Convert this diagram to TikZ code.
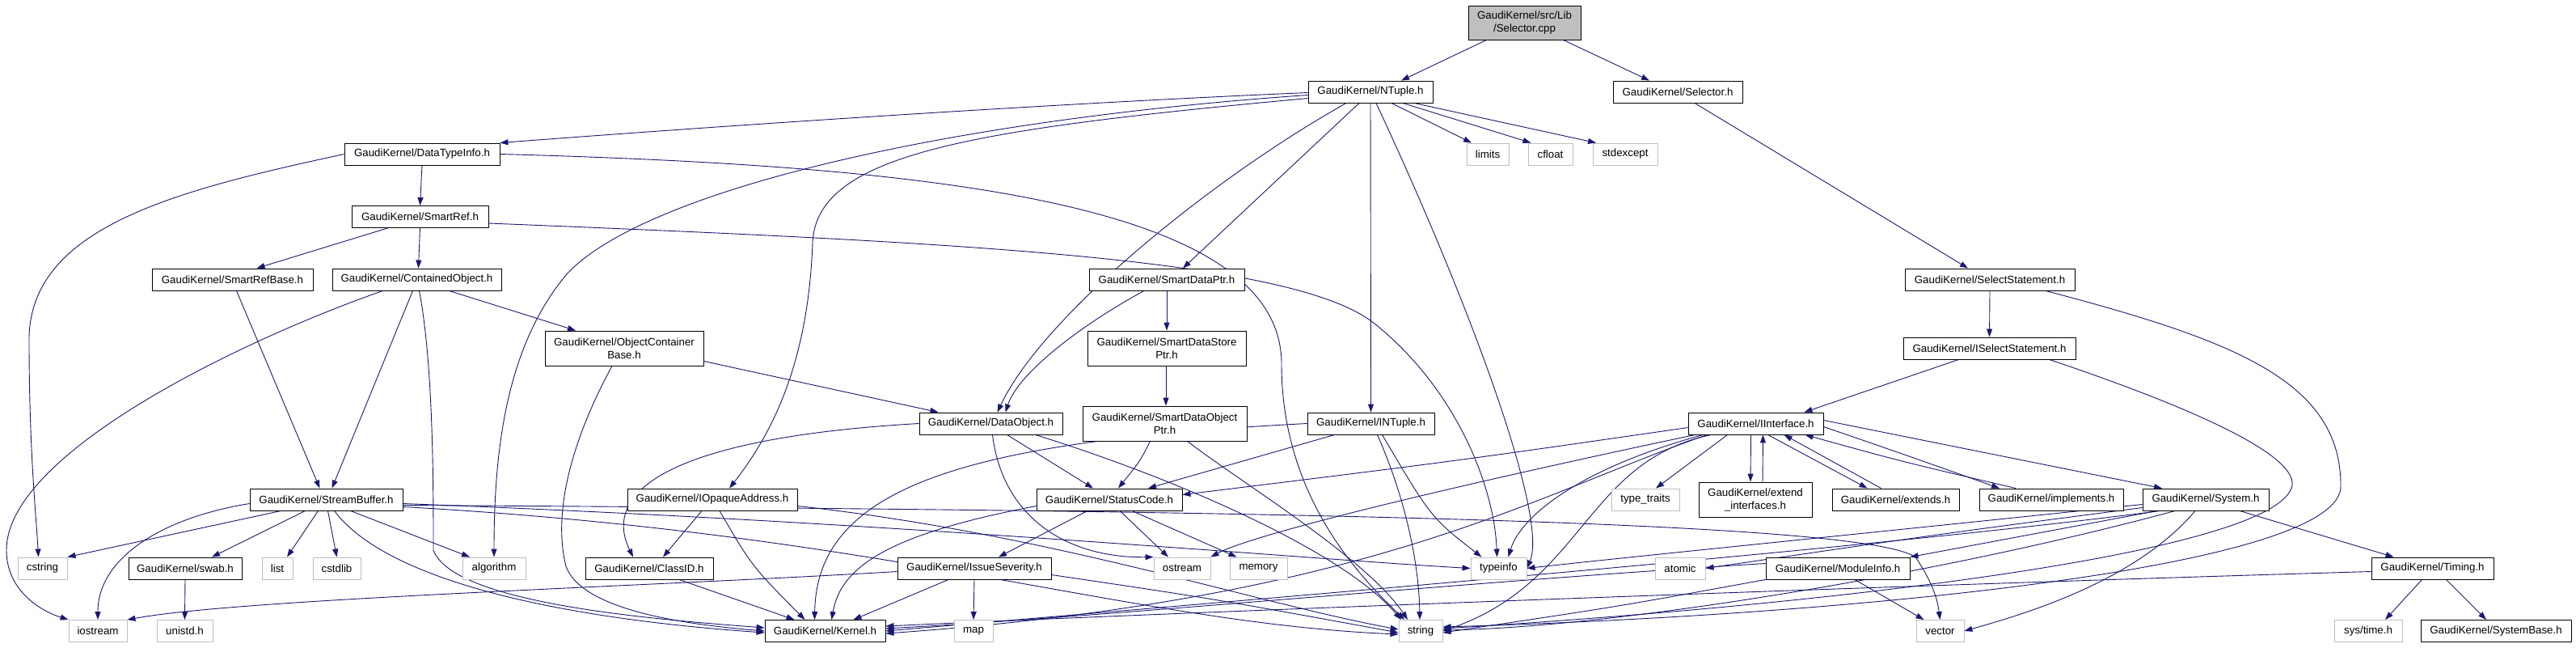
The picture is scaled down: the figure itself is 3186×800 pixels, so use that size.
\documentclass[tikz,border=0pt]{standalone}
\usepackage{fontspec}
\setmainfont{Liberation Sans}
\usetikzlibrary{arrows.meta,backgrounds}
\definecolor{edgecol}{HTML}{191970}
\definecolor{sysgray}{HTML}{BFBFBF}
\begin{document}
\begin{tikzpicture}[x=1bp,y=-1bp,
  box/.style={draw=black,fill=white,rectangle,inner sep=0pt,minimum height=27bp,
    line width=0.9bp,align=center,font=\fontsize{13.3bp}{16bp}\selectfont},
  tall/.style={minimum height=43bp},
  sysbox/.style={box,draw=sysgray},
  rootbox/.style={box,fill=sysgray,minimum height=42bp},
  dep/.style={draw=edgecol,line width=0.9bp,-{Triangle[length=10bp,width=7bp]}}]
\useasboundingbox (0,0) rectangle (3186,800);
% nodes
\node[rootbox,minimum width=139bp] (root) at (1885.5,28) {GaudiKernel/src/Lib\\/Selector.cpp};
\node[box,minimum width=154bp] (ntuple) at (1695,113.5) {GaudiKernel/NTuple.h};
\node[box,minimum width=160bp] (selh) at (2075,113.5) {GaudiKernel/Selector.h};
\node[sysbox,minimum width=52bp] (limits) at (1840,190.5) {limits};
\node[sysbox,minimum width=55bp] (cfloat) at (1917.5,190.5) {cfloat};
\node[sysbox,minimum width=80bp] (stdexcept) at (2010,190.5) {stdexcept};
\node[box,minimum width=192bp] (dti) at (522,190.5) {GaudiKernel/DataTypeInfo.h};
\node[box,minimum width=169bp] (smartref) at (519.5,268) {GaudiKernel/SmartRef.h};
\node[box,minimum width=199bp] (srbase) at (287.5,345.5) {GaudiKernel/SmartRefBase.h};
\node[box,minimum width=209bp] (contobj) at (515.5,345.5) {GaudiKernel/ContainedObject.h};
\node[box,tall,minimum width=196bp] (ocb) at (772,430.5) {GaudiKernel/ObjectContainer\\Base.h};
\node[box,minimum width=192bp] (sdp) at (1443,345.5) {GaudiKernel/SmartDataPtr.h};
\node[box,tall,minimum width=196bp] (sdsp) at (1443,430.5) {GaudiKernel/SmartDataStore\\Ptr.h};
\node[box,tall,minimum width=203bp] (sdop) at (1440.5,523.5) {GaudiKernel/SmartDataObject\\Ptr.h};
\node[box,minimum width=210bp] (selst) at (2461,345.5) {GaudiKernel/SelectStatement.h};
\node[box,minimum width=213bp] (iselst) at (2460.5,430.5) {GaudiKernel/ISelectStatement.h};
\node[box,minimum width=177bp] (dataobj) at (1225.5,523.5) {GaudiKernel/DataObject.h};
\node[box,minimum width=157bp] (intuple) at (1695.5,523.5) {GaudiKernel/INTuple.h};
\node[box,minimum width=167bp] (iif) at (2171.5,523.5) {GaudiKernel/IInterface.h};
\node[box,minimum width=189bp] (sbuf) at (403.5,617.5) {GaudiKernel/StreamBuffer.h};
\node[box,minimum width=210bp] (ioa) at (881,617.5) {GaudiKernel/IOpaqueAddress.h};
\node[box,minimum width=180bp] (sc) at (1372,617.5) {GaudiKernel/StatusCode.h};
\node[sysbox,minimum width=84bp] (tt) at (2035,617.5) {type\_traits};
\node[box,tall,minimum width=140bp] (extif) at (2171,617.5) {GaudiKernel/extend\\\_interfaces.h};
\node[box,minimum width=157bp] (extends) at (2344.5,617.5) {GaudiKernel/extends.h};
\node[box,minimum width=178bp] (impl) at (2537,617.5) {GaudiKernel/implements.h};
\node[box,minimum width=156bp] (system) at (2728,617.5) {GaudiKernel/System.h};
\node[sysbox,minimum width=61bp] (cstring) at (52.5,702.5) {cstring};
\node[box,minimum width=140bp] (swab) at (229,702.5) {GaudiKernel/swab.h};
\node[sysbox,minimum width=38bp] (list) at (343,702.5) {list};
\node[sysbox,minimum width=59bp] (cstdlib) at (416.5,702.5) {cstdlib};
\node[sysbox,minimum width=78bp] (algorithm) at (611,702.5) {algorithm};
\node[box,minimum width=158bp] (classid) at (803,702.5) {GaudiKernel/ClassID.h};
\node[box,minimum width=190bp] (issue) at (1205,702.5) {GaudiKernel/IssueSeverity.h};
\node[sysbox,minimum width=70bp] (ostream) at (1462,702.5) {ostream};
\node[sysbox,minimum width=71bp] (memory) at (1556.5,702.5) {memory};
\node[sysbox,minimum width=69bp] (typeinfo) at (1853.5,702.5) {typeinfo};
\node[sysbox,minimum width=62bp] (atomic) at (2078,702.5) {atomic};
\node[box,minimum width=178bp] (modinfo) at (2273,702.5) {GaudiKernel/ModuleInfo.h};
\node[box,minimum width=151bp] (timing) at (3008.5,702.5) {GaudiKernel/Timing.h};
\node[sysbox,minimum width=72bp] (iostream) at (121,780) {iostream};
\node[sysbox,minimum width=69bp] (unistd) at (228.5,780) {unistd.h};
\node[box,minimum width=149bp] (kernel) at (1020.5,780) {GaudiKernel/Kernel.h};
\node[sysbox,minimum width=48bp] (map) at (1204,780) {map};
\node[sysbox,minimum width=54bp] (string) at (1757,780) {string};
\node[sysbox,minimum width=59bp] (vector) at (2399.5,780) {vector};
\node[sysbox,minimum width=84bp] (systime) at (2929,780) {sys/time.h};
\node[box,minimum width=186bp] (sysbase) at (3087,780) {GaudiKernel/SystemBase.h};
% edges
\begin{scope}[on background layer]
\draw[dep] ([xshift=-47bp]root.south) -- ([xshift=38bp]ntuple.north);
\draw[dep] ([xshift=48bp]root.south) -- ([xshift=-35bp]selh.north);
\draw[dep] ([xshift=21bp]selh.south) -- ([xshift=-27bp]selst.north);
\draw[dep] ([xshift=26bp]ntuple.south) -- ([xshift=-20bp]limits.north);
\draw[dep] ([xshift=40bp]ntuple.south) -- ([xshift=-24bp]cfloat.north);
\draw[dep] ([xshift=54bp]ntuple.south) -- ([xshift=-36bp]stdexcept.north);
\draw[dep] ([yshift=-1bp]ntuple.west) .. controls (1300,128) and (900,155) .. (dti.north east);
\draw[dep] ([yshift=-4bp]ntuple.west) .. controls (1150,150) and (790,240) .. (700,340) .. controls (625,430) and (611,560) .. (algorithm.north);
\draw[dep] ([yshift=-8bp]ntuple.west) .. controls (1200,160) and (1010,190) .. (1005,300) .. controls (1000,440) and (960,530) .. ([xshift=21bp]ioa.north);
\draw[dep] ([xshift=-30bp]ntuple.south) .. controls (1500,220) and (1290,390) .. ([xshift=8bp]dataobj.north);
\draw[dep] ([xshift=-14bp]ntuple.south) -- ([xshift=20bp]sdp.north);
\draw[dep] (ntuple.south) -- (intuple.north);
\draw[dep] ([xshift=7bp]ntuple.south) .. controls (1820,380) and (1915,640) .. (typeinfo.east);
\draw[dep] (dti.south) -- (smartref.north);
\draw[dep] (dti.west) .. controls (220,235) and (36,280) .. (36,420) .. controls (36,560) and (45,640) .. ([xshift=-5bp]cstring.north);
\draw[dep] (dti.east) .. controls (1150,205) and (1585,250) .. (1585,450) .. controls (1585,620) and (1690,720) .. ([xshift=-20bp]string.north);
\draw[dep] ([xshift=-40bp]smartref.south) -- ([xshift=30bp]srbase.north);
\draw[dep] (smartref.south) -- ([xshift=2bp]contobj.north);
\draw[dep] ([yshift=-8bp]smartref.east) .. controls (1200,300) and (1600,320) .. (1700,400) .. controls (1800,480) and (1848,600) .. ([xshift=-2bp]typeinfo.north);
\draw[dep] ([xshift=5bp]srbase.south) -- ([xshift=-8bp]sbuf.north);
\draw[dep] ([xshift=-5bp]contobj.south) -- ([xshift=7bp]sbuf.north);
\draw[dep] ([xshift=-42bp]contobj.south) .. controls (300,420) and (8,560) .. (8,680) .. controls (8,730) and (50,755) .. (iostream.north west);
\draw[dep] ([xshift=3bp]contobj.south) .. controls (536,450) and (536,600) .. (536,680) .. controls (560,745) and (800,765) .. ([yshift=4bp]kernel.west);
\draw[dep] ([xshift=40bp]contobj.south) -- ([xshift=-60bp]ocb.north);
\draw[dep] ([yshift=-16bp]ocb.east) -- ([xshift=-65bp]dataobj.north);
\draw[dep] ([xshift=-15bp]ocb.south) .. controls (720,520) and (680,620) .. (700,700) .. controls (720,755) and (850,772) .. (kernel.west);
\draw[dep] (sdp.south) -- (sdsp.north);
\draw[dep] ([xshift=-28bp]sdp.south) .. controls (1340,400) and (1260,460) .. ([xshift=18bp]dataobj.north);
\draw[dep] ([xshift=-1bp]sdsp.south) -- ([xshift=1.5bp]sdop.north);
\draw[dep] ([xshift=-18bp]sdop.south) .. controls (1410,570) .. ([xshift=11bp]sc.north);
\draw[dep] ([xshift=28bp]sdop.south) .. controls (1540,600) and (1690,690) .. ([xshift=-16bp]string.north);
\draw[dep] (intuple.west) .. controls (1200,545) and (1010,600) .. ([xshift=-13bp]kernel.north);
\draw[dep] ([xshift=-45bp]intuple.south) -- ([xshift=48bp]sc.north);
\draw[dep] ([xshift=8bp]intuple.south) .. controls (1740,620) and (1755,700) .. ([xshift=-1bp]string.north);
\draw[dep] ([xshift=14bp]intuple.south) .. controls (1770,640) .. ([xshift=-21bp]typeinfo.north);
\draw[dep] (dataobj.west) .. controls (850,540) and (740,600) .. ([xshift=-20bp]classid.north);
\draw[dep] ([xshift=20bp]dataobj.south) -- ([xshift=-20bp]sc.north);
\draw[dep] ([xshift=2bp]dataobj.south) .. controls (1240,640) and (1320,690) .. (ostream.north west);
\draw[dep] ([xshift=55bp]dataobj.south) .. controls (1450,590) and (1660,680) .. ([xshift=-24bp]string.north);
\draw[dep] ([xshift=-13bp]ioa.south) -- ([xshift=17bp]classid.north);
\draw[dep] ([xshift=9bp]ioa.south) .. controls (930,700) .. ([xshift=-25bp]kernel.north);
\draw[dep] ([yshift=-8bp]ioa.east) .. controls (1300,660) and (1550,745) .. ([yshift=2bp]string.west);
\draw[dep] ([xshift=37bp]classid.south) -- ([xshift=-38bp]kernel.north);
\draw[dep] ([xshift=-27bp]sc.south) -- ([xshift=30bp]issue.north);
\draw[dep] ([xshift=13bp]sc.south) -- ([xshift=-17bp]ostream.north);
\draw[dep] ([xshift=28bp]sc.south) -- ([xshift=-27bp]memory.north);
\draw[dep] ([yshift=-8bp]sc.west) .. controls (1100,660) and (1040,700) .. ([xshift=8bp]kernel.north);
\draw[dep] ([xshift=-32bp]issue.south) -- ([xshift=35bp]kernel.north);
\draw[dep] (issue.south) -- (map.north);
\draw[dep] ([yshift=-8bp]issue.east) .. controls (1500,740) .. ([yshift=-2bp]string.west);
\draw[dep] ([yshift=-4bp]issue.west) .. controls (800,725) and (300,740) .. (iostream.north east);
\draw[dep] ([xshift=-56bp]sbuf.south) -- (cstring.north east);
\draw[dep] ([xshift=-26bp]sbuf.south) -- ([xshift=33bp]swab.north);
\draw[dep] ([xshift=-10bp]sbuf.south) -- ([xshift=12bp]list.north);
\draw[dep] ([xshift=2bp]sbuf.south) -- (cstdlib.north);
\draw[dep] ([xshift=30bp]sbuf.south) -- ([xshift=-30bp]algorithm.north);
\draw[dep] ([yshift=-5bp]sbuf.west) .. controls (200,640) and (121,690) .. (iostream.north);
\draw[dep] ([xshift=10bp]sbuf.south) .. controls (480,720) and (700,765) .. ([yshift=-2bp]kernel.west);
\draw[dep] ([yshift=-5bp]sbuf.east) .. controls (1100,645) and (1600,690) .. (typeinfo.west);
\draw[dep] ([yshift=-7bp]sbuf.east) .. controls (1400,630) and (2320,640) .. (2370,690) .. controls (2390,720) and (2396,740) .. (vector.north);
\draw[dep] ([yshift=-9bp]sbuf.east) .. controls (1100,660) and (1400,770) .. ([yshift=-4bp]string.west);
\draw[dep] (swab.south) -- (unistd.north);
\draw[dep] ([yshift=-5bp]iif.west) .. controls (1800,570) .. ([yshift=6bp]sc.east);
\draw[dep] ([xshift=-75bp]iif.south) .. controls (1800,600) and (1550,660) .. (ostream.north east);
\draw[dep] ([xshift=-65bp]iif.south) .. controls (1950,580) and (1880,640) .. ([xshift=12bp]typeinfo.north);
\draw[dep] ([xshift=-55bp]iif.south) .. controls (1960,570) and (1960,720) .. (string.east);
\draw[dep] ([xshift=-60bp]iif.south) .. controls (1900,610) and (1700,740) .. ([yshift=-3bp]kernel.east);
\draw[dep] ([xshift=-35bp]iif.south) -- ([xshift=13bp]tt.north);
\draw[dep] ([xshift=-6bp]iif.south) -- ([xshift=-6bp]extif.north);
\draw[dep] ([xshift=9bp]extif.north) -- ([xshift=9bp]iif.south);
\draw[dep] ([xshift=15bp]iif.south) -- ([xshift=-35bp]extends.north);
\draw[dep] ([xshift=-18bp]extends.north) -- ([xshift=35bp]iif.south);
\draw[dep] ([yshift=-4bp]iif.east) .. controls (2350,560) .. ([xshift=-64bp]impl.north);
\draw[dep] ([xshift=-44bp]impl.north) .. controls (2350,570) .. ([xshift=61bp]iif.south);
\draw[dep] ([yshift=4bp]iif.east) -- ([xshift=-54bp]system.north);
\draw[dep] ([xshift=-38bp]iselst.south) -- ([xshift=60bp]iif.north);
\draw[dep] ([xshift=74bp]iselst.south) .. controls (2700,500) and (2840,560) .. (2835,600) .. controls (2820,680) and (2300,745) .. ([yshift=3bp]string.east);
\draw[dep] (selst.south) -- (iselst.north);
\draw[dep] ([xshift=69bp]selst.south) .. controls (2760,420) and (2895,470) .. (2895,600) .. controls (2900,700) and (2300,760) .. ([yshift=5bp]string.east);
\draw[dep] ([xshift=42bp]system.south) -- ([xshift=-48bp]timing.north);
\draw[dep] ([xshift=-13bp]system.south) .. controls (2640,720) and (2500,760) .. (vector.east);
\draw[dep] ([xshift=-38bp]system.south) .. controls (2400,710) and (2000,775) .. ([yshift=1bp]string.east);
\draw[dep] ([xshift=-56bp]system.south) .. controls (2300,680) and (1500,745) .. (kernel.east);
\draw[dep] ([yshift=-6bp]system.west) .. controls (2300,660) and (2000,690) .. (typeinfo.east);
\draw[dep] ([yshift=-10bp]system.west) .. controls (2400,660) .. (atomic.east);
\draw[dep] ([xshift=-60bp]system.south) -- (modinfo.north east);
\draw[dep] ([yshift=6bp]modinfo.west) .. controls (1800,720) and (1400,760) .. ([yshift=3bp]kernel.east);
\draw[dep] (modinfo.south west) .. controls (2000,750) .. ([yshift=-2bp]string.east);
\draw[dep] ([xshift=21bp]modinfo.south) -- ([xshift=-20bp]vector.north);
\draw[dep] ([xshift=-13bp]timing.south) -- ([xshift=21bp]systime.north);
\draw[dep] ([xshift=17bp]timing.south) -- ([xshift=-12bp]sysbase.north);
\draw[dep] ([yshift=-4bp]timing.west) .. controls (2400,722) and (1500,755) .. ([yshift=6bp]kernel.east);
\end{scope}
\end{tikzpicture}
\end{document}
